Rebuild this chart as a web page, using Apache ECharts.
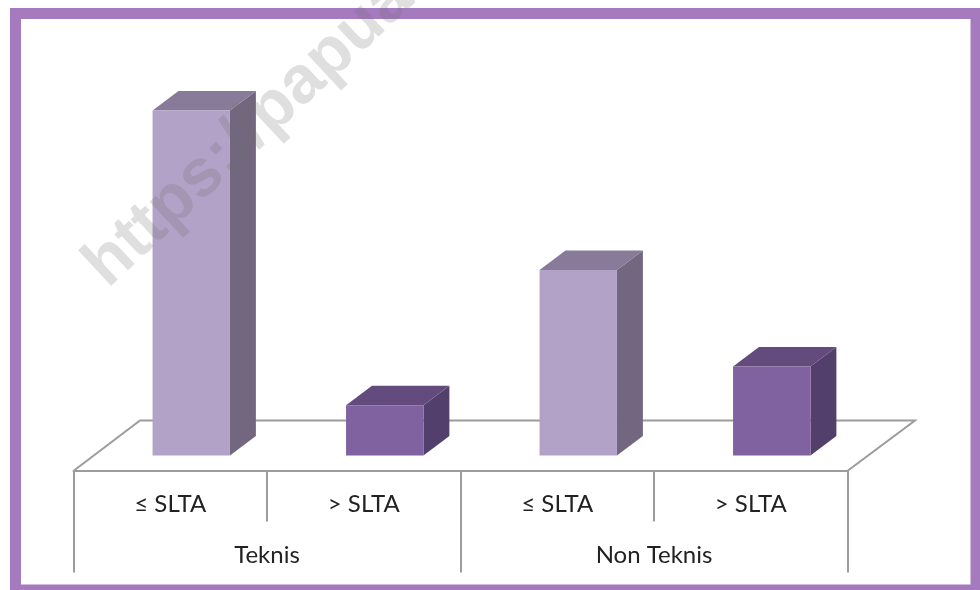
<!DOCTYPE html>
<html>
<head>
<meta charset="utf-8">
<style>html,body{margin:0;padding:0;background:#fff}#c{width:980px;height:590px}</style>
<script src="https://cdn.jsdelivr.net/npm/echarts@6/dist/echarts.min.js"></script>
</head>
<body>
<div id="c"></div>
<script>
const levels = ["≤ SLTA", "> SLTA", "≤ SLTA", "> SLTA"];
const groups = ["Teknis", "Non Teknis"];
const values = [51.5, 7.5, 27.7, 13.3];
const frontColors = ["#b3a2c7", "#8062a0", "#b3a2c7", "#8062a0"];
const sideColors = ["#72677f", "#533f6b", "#72677f", "#533f6b"];
const topColors = ["#887b99", "#634c7d", "#887b99", "#634c7d"];
const watermark = "https://papua";
const textFont = "Lato, 'Open Sans', sans-serif";
const lineColor = "#9c9c9c";

const chart = echarts.init(document.getElementById("c"), null, {renderer: "canvas"});

function renderBar(params, api) {
  const i = api.value(0);
  const base = api.coord([i, 0]);
  const top = api.coord([i, api.value(1)]);
  const band = api.size([1, 0])[0];
  const w = band * 0.4, dx = band * 0.134, dy = dx * 0.75;
  const xl = base[0] - w / 2, xr = base[0] + w / 2;
  const poly = (points, fill) => ({type: "polygon", shape: {points}, style: {fill}});
  return {type: "group", children: [
    poly([[xr, base[1]], [xr + dx, base[1] - dy], [xr + dx, top[1] - dy], [xr, top[1]]], sideColors[i]),
    poly([[xl, top[1]], [xl + dx, top[1] - dy], [xr + dx, top[1] - dy], [xr, top[1]]], topColors[i]),
    {type: "rect", shape: {x: xl, y: top[1], width: w, height: base[1] - top[1]}, style: {fill: frontColors[i]}}
  ]};
}

chart.setOption({
  animation: false,
  backgroundColor: "#fff",
  grid: [
    {left: 94.5, width: 774, top: 53.5, height: 402},
    {left: 73.5, width: 774, top: 420, height: 50.5}
  ],
  xAxis: [
    {gridIndex: 0, type: "category", data: levels, show: false},
    {gridIndex: 1, type: "category", data: levels, position: "bottom",
     axisLine: {show: true, lineStyle: {color: lineColor, width: 2}},
     axisTick: {show: true, length: 51, lineStyle: {color: lineColor, width: 2}},
     axisLabel: {show: true, interval: 0, margin: 22, color: "#222", fontSize: 24, fontFamily: textFont}},
    {gridIndex: 1, type: "category", data: groups, position: "bottom",
     axisLine: {show: false},
     axisTick: {show: true, length: 102, lineStyle: {color: lineColor, width: 2}},
     axisLabel: {show: true, interval: 0, margin: 73, color: "#222", fontSize: 24, fontFamily: textFont}}
  ],
  yAxis: [
    {gridIndex: 0, type: "value", min: 0, max: 60, show: false},
    {gridIndex: 1, type: "value", show: false}
  ],
  series: [{
    type: "custom", xAxisIndex: 0, yAxisIndex: 0, z: 5, clip: false,
    data: values.map((v, i) => [i, v]),
    encode: {x: 0, y: 1},
    renderItem: renderBar
  }],
  graphic: [
    {type: "polyline", z: 1, silent: true,
     shape: {points: [[74, 470.5], [140, 420.5], [915, 420.5], [848, 470.5]]},
     style: {stroke: lineColor, lineWidth: 2, fill: null}},
    {type: "rect", z: 20, silent: true,
     shape: {x: 15.5, y: 13.5, width: 960.5, height: 576.5},
     style: {stroke: "#a57abf", lineWidth: 11, fill: null}},
    {type: "text", z: 30, silent: true, x: 118, y: 300, rotation: Math.PI * 43 / 180,
     style: {text: watermark, font: "bold 67px 'Liberation Sans', Arial, sans-serif",
             fill: "rgba(110,110,110,0.22)", textAlign: "left", textVerticalAlign: "bottom"}}
  ]
});
</script>
</body>
</html>
